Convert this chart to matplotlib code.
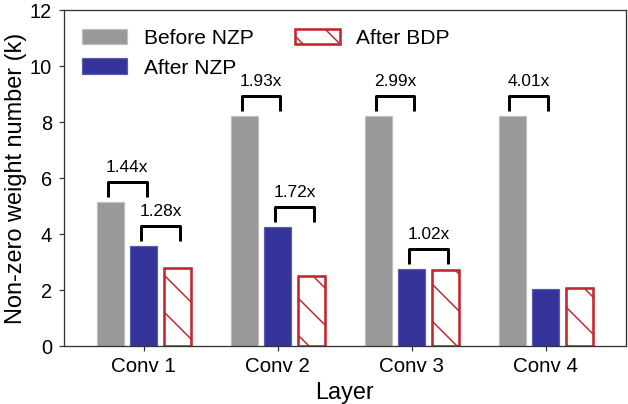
import matplotlib
matplotlib.use("Agg")
import matplotlib.pyplot as plt
import numpy as np

# ---- data ----
layers = ["Conv 1", "Conv 2", "Conv 3", "Conv 4"]
series_names = ["Before NZP", "After NZP", "After BDP"]
before_nzp = [5.15, 8.22, 8.22, 8.22]
after_nzp = [3.57, 4.26, 2.75, 2.05]
after_bdp = [2.80, 2.49, 2.71, 2.06]
# ratio annotations: layer index, series from, series to, label
ratio_layer = [0, 0, 1, 1, 2, 2, 3]
ratio_from = [0, 1, 0, 1, 0, 1, 0]
ratio_to = [1, 2, 1, 2, 1, 2, 1]
ratio_labels = ["1.44x", "1.28x", "1.93x", "1.72x", "2.99x", "1.02x", "4.01x"]
yticks = [0, 2, 4, 6, 8, 10, 12]

DPI = 222
W, H = 628, 404


def pt(px):
    return px * 72.0 / DPI


plt.rcParams['font.family'] = ['Liberation Sans', 'DejaVu Sans']
plt.rcParams['hatch.linewidth'] = pt(1.5)

fig = plt.figure(figsize=(W / DPI, H / DPI), dpi=DPI)
ax = fig.add_axes([63.5 / W, 1 - 346 / H, (626 - 63.5) / W, (346 - 10) / H])

x = np.arange(len(layers))
offs = [-0.25, 0.0, 0.25]
width = 0.2
series = [before_nzp, after_nzp, after_bdp]
styles = [
    dict(color='#999999', edgecolor='#bfbfbf', linewidth=pt(1.2)),
    dict(color='#333399', edgecolor='#5c5cb8', linewidth=pt(1.2)),
    dict(facecolor='white', edgecolor='#c1272d', linewidth=pt(2.6),
         hatch='\\\\'),
]
for vals, off, st, name in zip(series, offs, styles, series_names):
    ax.bar(x + off, vals, width, label=name, **st)

# brackets
for k in range(len(ratio_labels)):
    i = ratio_layer[k]
    a = ratio_from[k]
    b = ratio_to[k]
    xa = x[i] + offs[a] - 0.02
    xb = x[i] + offs[b] + 0.02
    top = max(series[a][i], series[b][i]) + 0.7
    ax.plot([xa, xa, xb, xb], [top - 0.52, top, top, top - 0.52],
            color='black', lw=pt(3.0), solid_joinstyle='round',
            solid_capstyle='butt', clip_on=False)
    ax.text((xa + xb) / 2, top + 0.36, ratio_labels[k], ha='center',
            va='baseline', fontsize=pt(17.3), color='black')

ax.set_xlim(-0.6, 3.6)
ax.set_ylim(0, 12)
ax.set_xticks(x)
ax.set_xticklabels(layers, fontsize=pt(20.5))
ax.set_yticks(yticks)
ax.set_yticklabels([str(v) for v in yticks], fontsize=pt(20))
ax.tick_params(direction='out', length=pt(5), width=pt(1.2), pad=pt(6.5),
               color='#333333')
for s in ax.spines.values():
    s.set_linewidth(pt(1.3))
    s.set_color('#333333')

ax.set_ylabel('Non-zero weight number (k)', fontsize=pt(23.6), labelpad=pt(3))
ax.set_xlabel('Layer', fontsize=pt(23.6), labelpad=pt(5))

ax.legend(loc='upper left', ncol=2, frameon=False, fontsize=pt(21),
          handlelength=2.14, handleheight=0.76, handletextpad=0.77,
          columnspacing=2.0, labelspacing=0.5)

fig.savefig('out.png', dpi=DPI)
